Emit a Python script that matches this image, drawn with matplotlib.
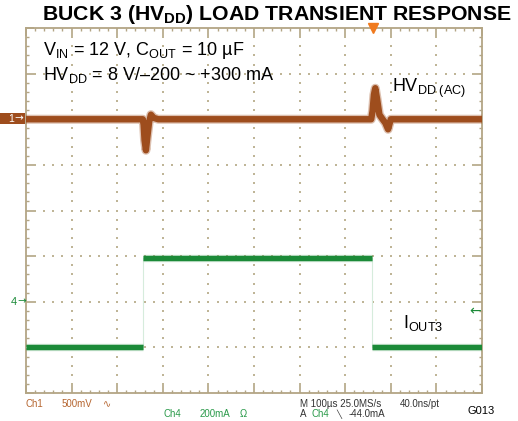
import numpy as np
import matplotlib
matplotlib.use("Agg")
import matplotlib.pyplot as plt
from matplotlib.patches import Rectangle

plt.rcParams['font.family'] = ['Liberation Sans', 'DejaVu Sans']
plt.rcParams['mathtext.fontset'] = 'custom'
plt.rcParams['mathtext.rm'] = 'Liberation Sans'
plt.rcParams['mathtext.it'] = 'Liberation Sans'
plt.rcParams['mathtext.bf'] = 'Liberation Sans:bold'

# ---- data read off the scope shot ----
# time in divisions (100 us/div), ch1 in mV (AC, 500 mV/div), ch4 in mA (200 mA/div)
ch1_t = [0, 2.56, 2.58, 2.6, 2.63, 2.66, 2.7, 2.74, 2.8, 2.9,
         7.57, 7.6, 7.63, 7.66, 7.7, 7.75, 7.82, 7.88, 7.94, 8.0, 10]
ch1_mv = [0, 0, -60, -230, -340, -200, -30, 50, 15, 0,
          0, 90, 270, 340, 220, 50, 0, -40, -110, 0, 0]

ch4_t = [0, 2.57, 2.57, 7.59, 7.59, 10]
ch4_ma = [-200, -200, 190, 190, -200, -200]

ch1_offset_div = 2.0     # ch1 ground marker
ch4_offset_div = -2.0    # ch4 ground marker
ch1_scale = 500.0        # mV/div
ch4_scale = 200.0        # mA/div
trig_level_ma = -44.0
trig_pos_div = 7.61

brown = '#9e4d1d'
green = '#1b8a38'
frame_col = '#b3a585'
grid_col = '#bfb597'

fig = plt.figure(figsize=(5.18, 4.21), dpi=100)
W, H = 518.0, 421.0
ax = fig.add_axes([26 / W, (H - 393) / H, 456 / W, 365 / H])
ax.set_xlim(0, 10)
ax.set_ylim(-4, 4)

# graticule: frame ticks + dotted division lines
ax.set_xticks(np.arange(0, 11, 1))
ax.set_yticks(np.arange(-4, 5, 1))
ax.set_xticks(np.arange(0, 10.01, 0.2), minor=True)
ax.set_yticks(np.arange(-4, 4.01, 0.2), minor=True)
ax.tick_params(which='both', direction='in', top=True, right=True,
               labelbottom=False, labelleft=False, color=frame_col)
ax.tick_params(which='major', length=6, width=1.2)
ax.tick_params(which='minor', length=2.5, width=1.0)
for s in ax.spines.values():
    s.set_color(frame_col)
    s.set_linewidth(1.3)

fine = np.arange(0.2, 10, 0.2)
fine_y = np.arange(-3.8, 4, 0.2)
for gx in range(1, 10):
    ax.scatter(np.full(len(fine_y), gx), fine_y, s=1.2, color=grid_col,
               marker='s', linewidths=0, zorder=1)
for gy in range(-3, 4):
    ax.scatter(fine, np.full(len(fine), gy), s=1.2, color=grid_col,
               marker='s', linewidths=0, zorder=1)

# ch1 trace
y1 = ch1_offset_div + np.array(ch1_mv) / ch1_scale
ax.plot(ch1_t, y1, color=brown, lw=6.5, alpha=0.35, solid_joinstyle='round', zorder=3)
ax.plot(ch1_t, y1, color=brown, lw=4.6, solid_joinstyle='round', zorder=3)

# ch4 trace
y4 = ch4_offset_div + np.array(ch4_ma) / ch4_scale
ax.plot(ch4_t, y4, color='#d6ecdc', lw=0.8, zorder=3)
for i in range(len(ch4_t) - 1):
    if y4[i] == y4[i + 1]:
        ax.plot(ch4_t[i:i + 2], y4[i:i + 2], color=green, lw=5.2, alpha=0.35,
                solid_capstyle='butt', zorder=3)
        ax.plot(ch4_t[i:i + 2], y4[i:i + 2], color=green, lw=3.6,
                solid_capstyle='butt', zorder=3)

# trigger markers
ax.plot([trig_pos_div], [4.0], marker='v', color='#f07a1e', markersize=7,
        clip_on=False, zorder=5)
ax.text(9.97, ch4_offset_div + trig_level_ma / ch4_scale, '\u2190', color=green,
        fontsize=10, ha='right', va='center', family=['DejaVu Sans'])

# channel ground markers (left)
fig.patches.append(Rectangle((0, 1 - 124 / H), 25 / W, 11 / H, transform=fig.transFigure,
                             facecolor=brown, edgecolor='none'))
fig.text(8 / W, 1 - 118.5 / H, '1', color='white', fontsize=7.5, va='center', ha='left')
fig.text(14 / W, 1 - 118.5 / H, '\u2192', color='white', fontsize=7.5, va='center',
         ha='left', family=['DejaVu Sans'])
fig.text(11 / W, 1 - 302 / H, '4', color=green, fontsize=8, va='center')
fig.text(17 / W, 1 - 301.5 / H, '\u2192', color=green, fontsize=7.5, va='center',
         family=['DejaVu Sans'])

# title and annotations
fig.text(512 / W, 1 - 14 / H, r'BUCK 3 (HV$_{\mathbf{DD}}$) LOAD TRANSIENT RESPONSE',
         fontsize=15.3, fontweight='bold', ha='right', va='center')
fig.text(43 / W, 1 - 55 / H, r'V$_{\mathrm{IN}}$ = 12 V, C$_{\mathrm{OUT}}$ = 10 µF',
         fontsize=13, ha='left', va='baseline')
fig.text(43 / W, 1 - 80 / H, r'HV$_{\mathrm{DD}}$ = 8 V/' + '\u2013200 ~ +300 mA',
         fontsize=13, ha='left', va='baseline')
fig.text(392 / W, 1 - 92 / H, r'HV$_{\mathrm{DD\ (AC)}}$', fontsize=13,
         ha='left', va='baseline')
fig.text(403 / W, 1 - 328 / H, r'I$_{\mathrm{OUT3}}$', fontsize=13,
         ha='left', va='baseline')

# scope readout
small = 7
fig.text(26 / W, 1 - 404 / H, 'Ch1', color='#b5652f', fontsize=small, va='center')
fig.text(62 / W, 1 - 404 / H, '500mV', color='#b5652f', fontsize=small, va='center')
fig.text(103 / W, 1 - 404 / H, '\u223f', color='#b5652f', fontsize=small, va='center',
         family=['DejaVu Sans'])
fig.text(163 / W, 1 - 414 / H, 'Ch4', color='#2a9a4a', fontsize=small, va='center')
fig.text(200 / W, 1 - 414 / H, '200mA', color='#2a9a4a', fontsize=small, va='center')
fig.text(240 / W, 1 - 414 / H, '\u03a9', color='#2a9a4a', fontsize=small, va='center')
fig.text(300 / W, 1 - 404 / H, 'M 100µs 25.0MS/s', color='#333333', fontsize=small,
         va='center')
fig.text(400 / W, 1 - 404 / H, '40.0ns/pt', color='#333333', fontsize=small, va='center')
fig.text(300 / W, 1 - 414 / H, 'A', color='#333333', fontsize=small, va='center')
fig.text(312 / W, 1 - 414 / H, 'Ch4', color='#2a9a4a', fontsize=small, va='center')
fig.text(336 / W, 1 - 414 / H, '\u2572', color='#333333', fontsize=small - 1,
         va='center', family=['DejaVu Sans'])
fig.text(349 / W, 1 - 414 / H, '-44.0mA', color='#333333', fontsize=small, va='center')
fig.text(468 / W, 1 - 411 / H, 'G013', color='black', fontsize=8, va='center')

fig.savefig('out.png', dpi=100)
